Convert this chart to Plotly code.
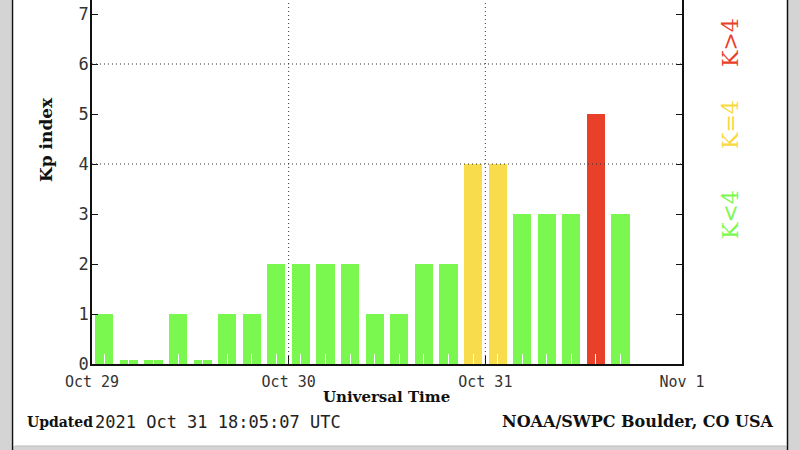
import plotly.graph_objects as go

# ---- data ----
slot_times = [
    "2021-10-29 01:30", "2021-10-29 04:30", "2021-10-29 07:30", "2021-10-29 10:30",
    "2021-10-29 13:30", "2021-10-29 16:30", "2021-10-29 19:30", "2021-10-29 22:30",
    "2021-10-30 01:30", "2021-10-30 04:30", "2021-10-30 07:30", "2021-10-30 10:30",
    "2021-10-30 13:30", "2021-10-30 16:30", "2021-10-30 19:30", "2021-10-30 22:30",
    "2021-10-31 01:30", "2021-10-31 04:30", "2021-10-31 07:30", "2021-10-31 10:30",
    "2021-10-31 13:30", "2021-10-31 16:30",
]
kp_values = [1, 0, 0, 1, 0, 1, 1, 2,
             2, 2, 2, 1, 1, 2, 2, 4,
             4, 3, 3, 3, 5, 3]
x_tick_vals = ["2021-10-29", "2021-10-30", "2021-10-31", "2021-11-01"]
x_tick_text = ["Oct 29", "Oct 30", "Oct 31", "Nov 1"]
y_tick_vals = [0, 1, 2, 3, 4, 5, 6, 7]
grid_y = [4, 6]
grid_x = ["2021-10-30", "2021-10-31"]

GREEN = "#7BF850"
YELLOW = "#F8DC4B"
RED = "#E9402A"

def kp_color(v):
    if v < 4:
        return GREEN
    if v == 4:
        return YELLOW
    return RED

zero_floor = 0.08  # zero-valued bars are drawn as a thin sliver
bar_heights = [max(v, zero_floor) for v in kp_values]
colors = [kp_color(v) for v in kp_values]

# ---- layout geometry (pixels) ----
W, H = 800, 450
L, R, T, B = 92, 682, 0, 364
PW, PH = R - L, B - T

def px(xp):
    return (xp - L) / PW

def py(yp):
    return (B - yp) / PH

fig = go.Figure()
fig.add_trace(go.Bar(
    x=slot_times, y=bar_heights,
    width=3 * 3600 * 1000 * 0.74,
    marker=dict(color=colors, line=dict(width=0)),
    hoverinfo="skip",
))

shapes = []
for gy in grid_y:
    shapes.append(dict(type="line", xref="paper", yref="y", x0=0, x1=1, y0=gy, y1=gy,
                       line=dict(color="#333", width=1, dash="1px,3px"), layer="above"))
for gx in grid_x:
    shapes.append(dict(type="line", xref="x", yref="paper", x0=gx, x1=gx, y0=0, y1=1,
                       line=dict(color="#333", width=1, dash="1px,3px"), layer="above"))

# outer frame decoration
shapes += [
    dict(type="rect", xref="paper", yref="paper", x0=px(-2), x1=px(11.5), y0=py(460), y1=py(-10),
         fillcolor="#D4D4D4", line=dict(width=0), layer="below"),
    dict(type="line", xref="paper", yref="paper", x0=px(12.5), x1=px(12.5), y0=py(460), y1=py(-10),
         line=dict(color="#111", width=1.5)),
    dict(type="rect", xref="paper", yref="paper", x0=px(788), x1=px(802), y0=py(460), y1=py(-10),
         fillcolor="#D4D4D4", line=dict(width=0), layer="below"),
    dict(type="line", xref="paper", yref="paper", x0=px(787.5), x1=px(787.5), y0=py(460), y1=py(-10),
         line=dict(color="#111", width=1.5)),
    dict(type="rect", xref="paper", yref="paper", x0=px(13), x1=px(787), y0=py(460), y1=py(446),
         fillcolor="#D4D4D4", line=dict(width=0), layer="below"),
    dict(type="line", xref="paper", yref="paper", x0=px(15), x1=px(786), y0=py(446), y1=py(446),
         line=dict(color="#BBBBBB", width=1)),
]

serif = "DejaVu Serif"
mono = "DejaVu Sans Mono"
annotations = [
    dict(text="<b>Kp index</b>", xref="paper", yref="paper", x=px(46), y=py(140),
         showarrow=False, textangle=-90, font=dict(family=serif, size=17, color="#111"),
         xanchor="center", yanchor="middle"),
    dict(text="<b>Universal Time</b>", xref="paper", yref="paper", x=px(386), y=py(397),
         showarrow=False, font=dict(family=serif, size=15, color="#111"),
         xanchor="center", yanchor="middle"),
    dict(text="<b>Updated</b>", xref="paper", yref="paper", x=px(25), y=py(422),
         showarrow=False, font=dict(family=serif, size=14, color="#111"),
         xanchor="left", yanchor="middle"),
    dict(text="2021 Oct 31 18:05:07 UTC", xref="paper", yref="paper", x=px(93), y=py(422),
         showarrow=False, font=dict(family=mono, size=17, color="#222"),
         xanchor="left", yanchor="middle"),
    dict(text="<b>NOAA/SWPC Boulder, CO USA</b>", xref="paper", yref="paper", x=px(776), y=py(422),
         showarrow=False, font=dict(family=serif, size=16, color="#111"),
         xanchor="right", yanchor="middle"),
    dict(text="K>4", xref="paper", yref="paper", x=px(730), y=py(43),
         showarrow=False, textangle=-90, font=dict(family=serif, size=22, color=RED),
         xanchor="center", yanchor="middle"),
    dict(text="K=4", xref="paper", yref="paper", x=px(730), y=py(125),
         showarrow=False, textangle=-90, font=dict(family=serif, size=22, color="#F8D940"),
         xanchor="center", yanchor="middle"),
    dict(text="K<4", xref="paper", yref="paper", x=px(730), y=py(215),
         showarrow=False, textangle=-90, font=dict(family=serif, size=22, color=GREEN),
         xanchor="center", yanchor="middle"),
]

fig.update_layout(
    width=W, height=H,
    margin=dict(l=L, r=W - R, t=T, b=H - B, pad=0),
    paper_bgcolor="white", plot_bgcolor="white",
    showlegend=False, bargap=0,
    shapes=shapes, annotations=annotations,
    xaxis=dict(
        type="date", range=["2021-10-29", "2021-11-01"],
        tickmode="array", tickvals=x_tick_vals, ticktext=x_tick_text,
        ticks="inside", ticklen=8, tickcolor="#111", tickwidth=1,
        minor=dict(ticks="inside", ticklen=10, tickcolor="white", tickwidth=1,
                   tick0="2021-10-29 01:30", dtick=3 * 3600 * 1000, showgrid=False),
        showline=True, linecolor="#111", linewidth=1.5, mirror=False,
        showgrid=False, zeroline=False,
        tickfont=dict(family=mono, size=15, color="#333"),
        ticklabelstandoff=3,
        fixedrange=True, automargin=False,
    ),
    yaxis=dict(
        range=[0, PH / 50.0],
        tickmode="array", tickvals=y_tick_vals,
        ticks="inside", ticklen=6, tickcolor="#111", tickwidth=1,
        showline=True, linecolor="#111", linewidth=1.5, mirror="allticks",
        showgrid=False, zeroline=False,
        tickfont=dict(family=mono, size=17, color="#333"),
        ticklabelstandoff=-2,
        fixedrange=True, automargin=False,
    ),
)

fig.write_html("out.html", config={"displayModeBar": False},
               post_script="document.body.style.margin='0';document.body.style.overflow='hidden';")
